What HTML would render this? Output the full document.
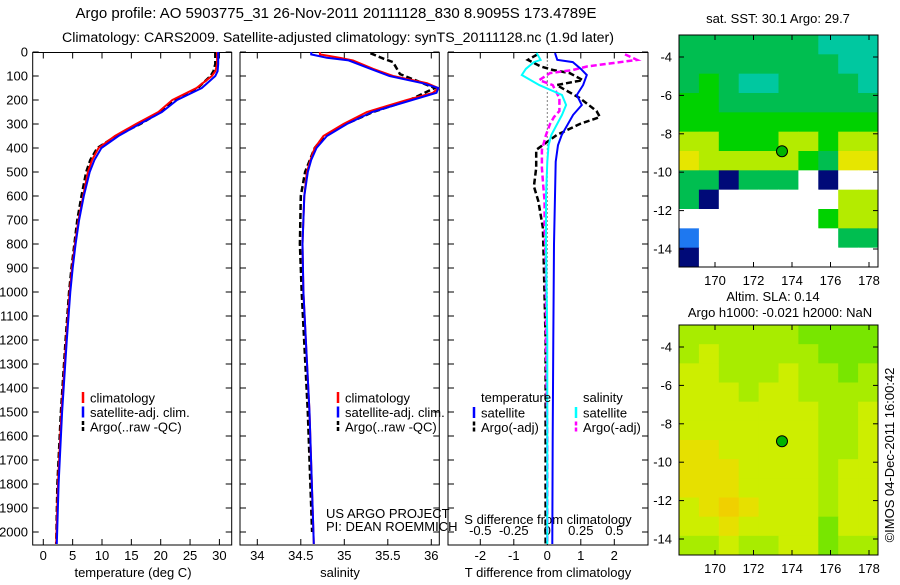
<!DOCTYPE html>
<html><head><meta charset="utf-8"><style>
body{margin:0;background:#fff;}
svg text{font-family:"Liberation Sans",Arial,sans-serif;font-size:13px;fill:#000;}
svg text.t1{font-size:15px;}
svg text.t2{font-size:14.2px;}
</style></head><body>
<svg id="fig" width="900" height="580" xmlns="http://www.w3.org/2000/svg">
<text class="t1" x="336" y="18" text-anchor="middle">Argo profile: AO 5903775_31 26-Nov-2011 20111128_830 8.9095S 173.4789E</text>
<text class="t2" x="338" y="42" text-anchor="middle">Climatology: CARS2009. Satellite-adjusted climatology: synTS_20111128.nc (1.9d later)</text>
<text x="778" y="23" text-anchor="middle">sat. SST: 30.1 Argo: 29.7</text>
<text x="773" y="301" text-anchor="middle">Altim. SLA: 0.14</text>
<text x="780" y="317" text-anchor="middle">Argo h1000: -0.021 h2000: NaN</text>
<text transform="translate(894,455) rotate(-90)" text-anchor="middle">©IMOS 04-Dec-2011 16:00:42</text>
<g id="g"></g>
</svg>
<script>
// ---- data ----
const depths = [0,50,80,100,150,200,250,300,350,400,450,500,600,700,800,900,1000,1200,1500,1800,2050];
const tempClim = [29.6,29.6,29.3,28.7,26.1,22.0,19.6,15.8,12.2,9.4,8.3,7.6,6.8,6.0,5.4,4.9,4.5,3.9,3.1,2.5,2.2];
const tempSat  = [29.8,29.8,29.7,29.3,27.0,22.8,20.2,16.4,12.8,9.9,8.7,7.9,6.9,6.1,5.5,5.0,4.6,4.0,3.2,2.6,2.3];
const tempArgo = [29.3,29.3,29.0,28.5,26.3,22.5,20.0,16.5,12.4,9.2,8.0,7.3,6.5,5.8,5.3,4.8,4.4,3.8,3.0,2.4,2.2];
const salDepths = [0,10,24,35,70,100,130,150,170,200,225,250,300,350,400,450,500,600,800,1000,1500,2050];
const salClim = [34.72,34.72,34.95,35.1,35.33,35.56,35.95,36.08,36.02,35.72,35.49,35.26,34.99,34.76,34.66,34.61,34.57,34.54,34.52,34.53,34.6,34.65];
const salSat  = [34.62,34.62,34.8,35.05,35.3,35.52,35.9,36.08,36.06,35.78,35.55,35.32,35.03,34.8,34.68,34.62,34.58,34.54,34.52,34.53,34.6,34.65];
const salArgoDepths = [5,28,42,92,150,200,250,300,350,400,500,600,800,1000,1500,2000];
const salArgo = [35.3,35.45,35.56,35.64,36.04,35.75,35.33,35.02,34.77,34.66,34.55,34.5,34.49,34.51,34.58,34.63];
const diffDepths = [4,33,42,70,96,138,179,221,262,346,388,457,600,800,1200,1600,2050];
const tDiffSat = [0.23,0.3,0.76,1.0,1.18,1.07,0.88,1.03,0.77,0.43,0.32,0.25,0.23,0.2,0.18,0.16,0.15];
const sDiffSat = [-0.08,-0.05,-0.1,-0.16,-0.19,-0.06,0.11,0.14,0.11,0.03,0.01,0,-0.01,-0.01,0,0,0];
const argoDiffDepths = [10,33,60,75,88,117,138,192,246,271,300,346,408,483,560,621,733,900,1200,1600,2050];
const tDiffArgo = [-0.3,-0.58,-0.2,0.17,0.67,1.06,0.28,0.97,1.47,1.57,0.97,0.28,-0.33,-0.33,-0.4,-0.27,-0.13,-0.1,-0.05,-0.05,-0.05];
const sDiffArgo = [0.58,0.67,0.3,0.19,0.02,-0.06,0.04,0.09,0.09,0.05,0.02,-0.01,-0.04,-0.04,-0.03,-0.02,-0.02,-0.01,-0.01,0,0];
const depthTicks = [0,100,200,300,400,500,600,700,800,900,1000,1100,1200,1300,1400,1500,1600,1700,1800,1900,2000];
const tempTicks = [0,5,10,15,20,25,30];
const salTicks = [34,34.5,35,35.5,36];
const salTickLabels = ["34","34.5","35","35.5","36"];
const tDiffTicks = [-2,-1,0,1,2];
const sDiffTicks = [-0.5,-0.25,0,0.25,0.5];
const sDiffTickLabels = ["-0.5","-0.25","0","0.25","0.5"];
const lonTicks = [170,172,174,176,178];
const latTicks = [-4,-6,-8,-10,-12,-14];
const argoLon = 173.48, argoLat = -8.91;
const sstGrid = [
[4,4,4,4,4,4,4,3,3,3],[4,4,4,4,4,4,4,4,3,3],[4,5,4,3,3,4,4,4,4,3],[5,5,4,4,4,4,4,4,4,4],
[5,5,5,5,5,5,5,5,5,5],[6,6,5,5,5,6,6,5,6,6],[7,6,6,6,6,6,5,4,7,7],[4,4,1,4,4,4,0,1,0,0],
[4,1,0,0,0,0,0,0,6,6],[0,0,0,0,0,0,0,5,6,6],[2,0,0,0,0,0,0,0,4,4],[1,0,0,0,0,0,0,0,0,0]];
const slaGrid = [
[1,1,1,1,1,1,0,0,0,0],[1,2,1,1,1,1,1,0,0,0],[2,2,1,1,1,2,1,1,0,1],[2,2,2,1,2,2,1,1,1,1],
[2,2,2,2,2,2,2,1,1,2],[2,2,2,2,2,2,2,1,1,2],[3,3,2,2,2,2,2,1,1,2],[3,3,3,2,2,2,2,1,2,2],
[3,3,3,2,2,2,2,1,2,2],[2,3,4,3,2,2,2,1,2,2],[2,2,3,2,2,2,2,0,2,2],[1,1,2,1,1,2,2,0,1,1]];
const sstColors = ["#ffffff","#000a78","#1e78f0","#00c8a0","#00be50","#00d200","#b4eb00","#e6e600"];
const slaColors = ["#78e600","#a8ec00","#cdee00","#e6e000","#f0d000"];
// ---- helpers ----
const NS="http://www.w3.org/2000/svg";const G=document.getElementById('g');
function mk(t,a,txt){const e=document.createElementNS(NS,t);for(const k in a)e.setAttribute(k,a[k]);if(txt!==undefined)e.textContent=txt;G.appendChild(e);return e;}
const yTop=52.5,yBot=545;
const yD=d=>52+d*0.24;
function frame(x0,x1,name){const r=mk('rect',{x:x0,y:yTop,width:x1-x0,height:yBot-yTop,fill:'none',stroke:'#000','stroke-width':1});

depthTicks.forEach(d=>{const y=yD(d);const a=mk('line',{x1:x0,x2:x0+6,y1:y,y2:y,stroke:'#000'});
const b=mk('line',{x1:x1-6,x2:x1,y1:y,y2:y,stroke:'#000'});});}
function xt(x0,list,f,labels,y,top){list.forEach((v,i)=>{const x=f(v);const a=mk('line',{x1:x,x2:x,y1:yBot-6,y2:yBot,stroke:'#000'});
if(top){const b=mk('line',{x1:x,x2:x,y1:yTop,y2:yTop+6,stroke:'#000'});}
const t=mk('text',{x:x,y:y,'text-anchor':'middle'},labels[i]);});}
function line(xs,ds,fx,col,w,dash,name){const pts=xs.map((v,i)=>fx(v).toFixed(1)+','+yD(ds[i]).toFixed(1)).join(' ');
const p=mk('polyline',{points:pts,fill:'none',stroke:col,'stroke-width':w});if(dash)p.setAttribute('stroke-dasharray',dash);
}
// panel 1
const xT=v=>43.3+v*5.87;
frame(32.7,231.7,'temperature-axes');
depthTicks.forEach(d=>{const t=mk('text',{x:28,y:yD(d)+4.5,'text-anchor':'end'},String(d));});
xt(0,tempTicks,xT,tempTicks.map(String),560,true);
let t=mk('text',{x:133,y:577,'text-anchor':'middle'},'temperature (deg C)');
line(tempArgo,depths,xT,'#000',2.5,'6,3','temp-argo-line');
line(tempClim,depths,xT,'#ff0000',2,null,'temp-climatology-line');
line(tempSat,depths,xT,'#0000ff',2,null,'temp-satellite-line');
function legend(x,y,items,nm){items.forEach((it,i)=>{const yy=y+i*14.5;const l=mk('line',{x1:x,x2:x,y1:yy-6,y2:yy+5,stroke:it[1],'stroke-width':2.5});if(it[2])l.setAttribute('stroke-dasharray','4,2');

const tt=mk('text',{x:x+7,y:yy+4.5},it[0]);});}
legend(83,398,[['climatology','#ff0000'],['satellite-adj. clim.','#0000ff'],['Argo(..raw -QC)','#000',1]],'temp-legend');
// panel 2
const xS=v=>257.3+(v-34)*87;
frame(240,439.3,'salinity-axes');
xt(0,salTicks,xS,salTickLabels,560,true);
t=mk('text',{x:340,y:577,'text-anchor':'middle'},'salinity');
line(salArgo,salArgoDepths,xS,'#000',2.5,'6,3','sal-argo-line');
line(salClim,salDepths,xS,'#ff0000',2,null,'sal-climatology-line');
line(salSat,salDepths,xS,'#0000ff',2,null,'sal-satellite-line');
legend(338,398,[['climatology','#ff0000'],['satellite-adj. clim.','#0000ff'],['Argo(..raw -QC)','#000',1]],'sal-legend');
t=mk('text',{x:326,y:518},'US ARGO PROJECT');
t=mk('text',{x:326,y:531},'PI: DEAN ROEMMICH');
// panel 3
const xTd=v=>547.3+v*33.5, xSd=v=>547.3+v*134;
frame(448,648,'difference-axes');
xt(0,tDiffTicks,xTd,tDiffTicks.map(String),560,true);
sDiffTicks.forEach((v,i)=>{const tt=mk('text',{x:xSd(v),y:535,'text-anchor':'middle'},sDiffTickLabels[i]);});
t=mk('text',{x:548,y:524,'text-anchor':'middle'},'S difference from climatology');
t=mk('text',{x:548,y:577,'text-anchor':'middle'},'T difference from climatology');
let z=mk('line',{x1:xTd(0),x2:xTd(0),y1:yTop,y2:yBot,stroke:'#000','stroke-dasharray':'1,3'});
line(tDiffArgo,argoDiffDepths,xTd,'#000',2.5,'6,3','t-diff-argo-line');
line(sDiffArgo,argoDiffDepths,xSd,'#ff00ff',2.5,'6,3','s-diff-argo-line');
line(tDiffSat,diffDepths,xTd,'#0000ff',2,null,'t-diff-satellite-line');
line(sDiffSat,diffDepths,xSd,'#00ffff',2,null,'s-diff-satellite-line');
t=mk('text',{x:481,y:402},'temperature');
t=mk('text',{x:583,y:402},'salinity');
legend(474,413,[['satellite','#0000ff'],['Argo(-adj)','#000',1]],'diff-legend-t');
legend(576,413,[['satellite','#00ffff'],['Argo(-adj)','#ff00ff',1]],'diff-legend-s');
// maps
function map(yT,yB,lat4y,grid,cols,nm){const x0=679,x1=878;const lx=lon=>715+(lon-170)*19.25;const ly=lat=>lat4y+(-4-lat)*19.2;
const lon0=(x0-715)/19.25+170,lon1=(x1-715)/19.25+170,lat0=-4-(yT-lat4y)/19.2,lat1=-4-(yB-lat4y)/19.2;
const nr=grid.length,nc=grid[0].length,dl=(lon1-lon0)/nc,dt=(lat0-lat1)/nr;
grid.forEach((row,r)=>row.forEach((v,c)=>{const xa=lx(lon0+c*dl),xb=lx(lon0+(c+1)*dl),ya=ly(lat0-r*dt),yb=ly(lat0-(r+1)*dt);
const e=mk('rect',{x:xa,y:ya,width:xb-xa+0.5,height:yb-ya+0.5,fill:cols[v]});}));
const f=mk('rect',{x:x0,y:yT,width:x1-x0,height:yB-yT,fill:'none',stroke:'#000'});
lonTicks.forEach(l=>{const x=lx(l);const a=mk('line',{x1:x,x2:x,y1:yT,y2:yT+5,stroke:'#000'});
const b=mk('line',{x1:x,x2:x,y1:yB-5,y2:yB,stroke:'#000'});
const tt=mk('text',{x:x,y:yB+18,'text-anchor':'middle'},String(l));});
latTicks.forEach(l=>{const y=ly(l);const a=mk('line',{x1:x0,x2:x0+5,y1:y,y2:y,stroke:'#000'});
const b=mk('line',{x1:x1-5,x2:x1,y1:y,y2:y,stroke:'#000'});
const tt=mk('text',{x:672,y:y+4.5,'text-anchor':'end'},String(l));});
const m=mk('circle',{cx:lx(argoLon),cy:ly(argoLat),r:5.5,fill:'#00b400',stroke:'#000','stroke-width':1});}
map(35,267,57,sstGrid,sstColors,'sst-map');
map(325,555,347,slaGrid,slaColors,'sla-map');
</script>
</body></html>
